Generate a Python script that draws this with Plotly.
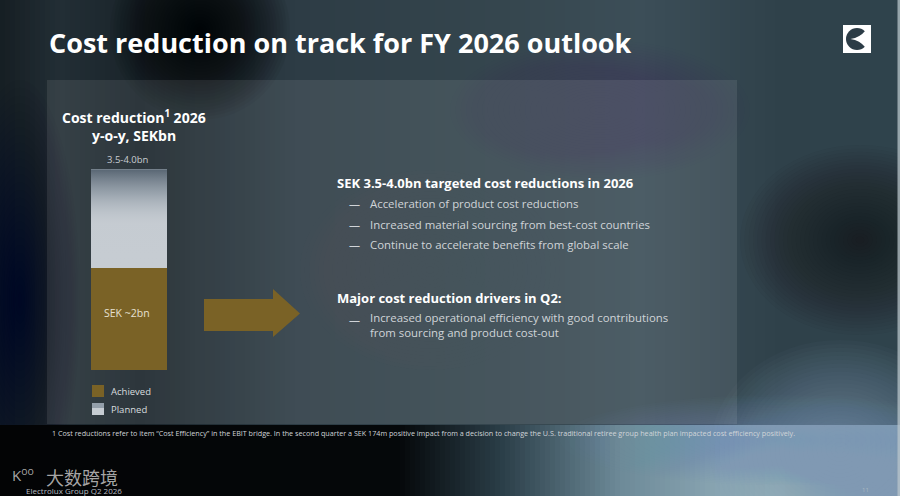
import plotly.graph_objects as go

# chart data
categories = ["2026"]
achieved = [2.0]
planned = [1.95]
series_names = ["Achieved", "Planned"]
total_label = "3.5-4.0bn"
achieved_label = "SEK ~2bn"

heading_1 = "SEK 3.5-4.0bn targeted cost reductions in 2026"
bullets_1 = [
    "Acceleration of product cost reductions",
    "Increased material sourcing from best-cost countries",
    "Continue to accelerate benefits from global scale",
]
heading_2 = "Major cost reduction drivers in Q2:"
bullets_2 = [
    "Increased operational efficiency with good contributions<br>from sourcing and product cost-out",
]
footnote = ("1 Cost reductions refer to item \u201cCost Efficiency\u201d in the EBIT bridge. In the second quarter a "
            "SEK 174m positive impact from a decision to change the U.S. traditional retiree group health plan "
            "impacted cost efficiency positively.")

GOLD = "#7a6226"
LIGHT = "#c6ccd2"
FONT = "Open Sans"
W, H = 900, 496


def px(x):
    return x / W


def py(y):
    return 1 - y / H


def hexrgb(c):
    c = c.lstrip("#")
    return tuple(int(c[i:i + 2], 16) for i in (0, 2, 4))


def mix(c0, c1, t):
    a, b = hexrgb(c0), hexrgb(c1)
    return "rgb(%d,%d,%d)" % tuple(round(a[i] + (b[i] - a[i]) * t) for i in range(3))


def rect(x0, y0, x1, y1, color, op=1.0, layer="below"):
    return dict(type="rect", xref="paper", yref="paper", x0=px(x0), x1=px(x1),
                y0=py(y1), y1=py(y0), fillcolor=color, opacity=op, line_width=0, layer=layer)


def colour_at(stops, v):
    for (a, ca), (b, cb) in zip(stops, stops[1:]):
        if a <= v <= b:
            return mix(ca, cb, (v - a) / (b - a))
    return stops[-1][1] if v > stops[-1][0] else stops[0][1]


def hgrad(x0, y0, x1, y1, stops, n=180):
    out = []
    step = (x1 - x0) / n
    for i in range(n):
        col = colour_at(stops, x0 + (i + 0.5) * step)
        out.append(rect(x0 + i * step, y0, x0 + (i + 1) * step + 0.6, y1, col))
    return out


def blob(cx, cy, rx, ry, color, op=0.6, n=28):
    # soft spot: stacked ellipses of falling size
    out = []
    for i in range(n):
        k = 1 - i / n
        out.append(dict(type="circle", xref="paper", yref="paper",
                        x0=px(cx - rx * k), x1=px(cx + rx * k),
                        y0=py(cy + ry * k), y1=py(cy - ry * k),
                        fillcolor=color, opacity=op / n * 1.5, line_width=0, layer="below"))
    return out


fig = go.Figure()

fig.add_trace(go.Bar(x=[0], y=achieved, name=series_names[0], hovertext=categories,
                     marker=dict(color=GOLD, line=dict(width=0)), width=1))
fig.add_trace(go.Bar(x=[0], y=planned, name=series_names[1], hovertext=categories,
                     marker=dict(color=LIGHT, line=dict(width=0)), width=1))

# gradient over the planned part (fades into the background at the top)
lo = achieved[0]
hi = achieved[0] + planned[0]
fig.add_trace(go.Scatter(
    x=[-0.5, 0.5, 0.5, -0.5, -0.5], y=[lo, lo, hi, hi, lo],
    mode="none", fill="toself", showlegend=False, hoverinfo="skip",
    fillgradient=dict(type="vertical", colorscale=[
        [0.0, "rgba(198,204,210,0)"],
        [0.45, "rgba(190,197,204,0.12)"],
        [0.75, "rgba(125,138,150,0.6)"],
        [1.0, "rgba(78,92,106,0.92)"],
    ]),
))

shapes = []
# page background
shapes += hgrad(0, 0, 900, 425, [(0, "#161e23"), (60, "#222e35"), (140, "#1a242a"),
                                 (300, "#2d3c45"), (520, "#36474f"), (640, "#3c4e58"),
                                 (780, "#2f414a"), (900, "#2f434c")])
shapes += blob(200, 30, 90, 90, "#040607", 0.85)
shapes += blob(20, 300, 60, 220, "#0c1114", 0.5)
shapes += blob(860, 240, 120, 95, "#0d1317", 0.7)
shapes += blob(430, 270, 130, 100, "#5b6064", 0.4)
shapes += blob(600, 110, 150, 70, "#4a5e69", 0.3)
shapes += hgrad(0, 425, 900, 496, [(0, "#030405"), (400, "#05080a"), (500, "#2a3d47"),
                                   (620, "#6d8a98"), (780, "#9ab5c2"), (900, "#88a4b2")])
shapes += blob(780, 440, 220, 45, "#7f9aa8", 0.5)
shapes += blob(840, 450, 130, 110, "#86a2b0", 0.75)
shapes.append(rect(897.5, 0, 900, 496, "#b9c5cb", 0.75))

# content panel
shapes.append(rect(47, 80, 737, 424, "rgba(255,255,255,0.085)"))

# arrow
arrow = [(204, 299), (273, 299), (273, 289), (300, 313.5), (273, 337), (273, 331), (204, 331)]
path = "M " + " L ".join(f"{px(x):.5f},{py(y):.5f}" for x, y in arrow) + " Z"
shapes.append(dict(type="path", xref="paper", yref="paper", path=path,
                   fillcolor=GOLD, line_width=0))

# legend swatches
shapes.append(rect(92, 385, 104, 397, GOLD, layer="above"))
shapes.append(rect(92, 403, 104, 415, LIGHT, layer="above"))
shapes.append(rect(92, 403, 104, 408, "#7f8c98", 0.7, layer="above"))

# Electrolux logo
shapes.append(rect(843, 25, 871, 53, "white", layer="above"))
shapes.append(dict(type="circle", xref="paper", yref="paper", x0=px(846), x1=px(868),
                   y0=py(50), y1=py(28), fillcolor="#2c3c46", line_width=0))


def pt(x, y):
    return f"{px(x):.5f},{py(y):.5f}"


lpath = (f"M {pt(850.5, 39)} Q {pt(860, 37.5)} {pt(865.5, 30.5)} L {pt(869, 30.5)} "
         f"L {pt(869, 47.5)} L {pt(865.5, 47.5)} Q {pt(860, 40.5)} {pt(850.5, 39)} Z")
shapes.append(dict(type="path", xref="paper", yref="paper", path=lpath,
                   fillcolor="white", line_width=0))


def note(x, y, text, size, color="#e8eaec", bold=False, xanchor="left", family=FONT):
    if bold:
        text = f"<b>{text}</b>"
    return dict(xref="paper", yref="paper", x=px(x), y=py(y), text=text, showarrow=False,
                xanchor=xanchor, yanchor="middle", align="center" if xanchor == "center" else "left",
                font=dict(family=family, size=size, color=color))


ann = [
    note(47, 42, "Cost reduction on track for FY 2026 outlook", 27, "white", True),
    note(134, 117, "Cost reduction<sup>1</sup> 2026", 14, "white", True, "center"),
    note(134, 135, "y-o-y, SEKbn", 14, "white", True, "center"),
    note(128, 160, total_label, 9.5, "#c8ccd0", False, "center"),
    note(127, 313, achieved_label, 10.5, "#e6e0d2", False, "center"),
    note(109, 391, series_names[0], 9.5, "#d8dcdf"),
    note(109, 409, series_names[1], 9.5, "#d8dcdf"),
    note(335, 183, heading_1, 13, "white", True),
    note(335, 298, heading_2, 13, "white", True),
    note(50, 433, footnote, 7.2, "#d0d4d8"),
    note(24, 490, "Electrolux Group Q2 2026", 8, "#b8bcc0"),
    note(44, 477, "大数跨境", 18, "rgba(195,195,195,0.85)", False, "left", "Noto Sans CJK SC"),
    note(10, 474, "K<sup>oo</sup>", 15, "rgba(195,195,195,0.85)"),
    note(860, 490, "11", 6, "#a8b8c0"),
]
for i, t in enumerate(bullets_1):
    y = 203 + i * 21
    ann.append(note(347, y, "\u2014", 11, "#d0d4d8"))
    ann.append(note(368, y, t, 11.4, "#d0d4d8"))
for t in bullets_2:
    ann.append(note(347, 319, "\u2014", 11, "#d0d4d8"))
    ann.append(note(368, 325, t, 11.4, "#d0d4d8"))

fig.update_layout(
    width=W, height=H,
    margin=dict(l=0, r=0, t=0, b=0),
    paper_bgcolor="#26353e", plot_bgcolor="rgba(0,0,0,0)",
    barmode="stack", showlegend=False,
    xaxis=dict(domain=[px(91), px(167)], range=[-0.5, 0.5], visible=False),
    yaxis=dict(domain=[py(370), py(370 - 4 * 50.85)], range=[0, 4], visible=False),
    shapes=shapes, annotations=ann,
)

fig.write_html("out.html", config={"displayModeBar": False},
               post_script="document.body.style.margin='0px';")
